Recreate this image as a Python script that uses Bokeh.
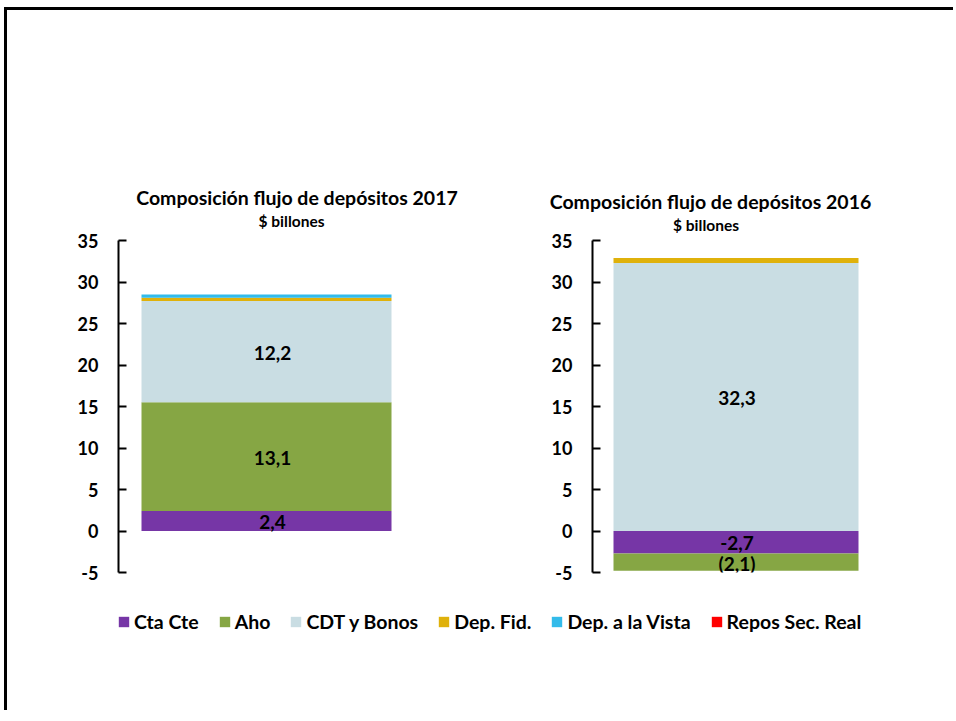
from bokeh.plotting import figure
from bokeh.models import (ColumnDataSource, Range1d, FixedTicker, Label, LabelSet,
                          Legend, LegendItem)
from bokeh.core.properties import value
from bokeh.layouts import column, row
from bokeh.embed import file_html
from bokeh.resources import INLINE

# ---------------- data ----------------
series = ["Cta Cte", "Aho", "CDT y Bonos", "Dep. Fid.", "Dep. a la Vista", "Repos Sec. Real"]
colors = ["#7636A6", "#86A644", "#C9DDE3", "#DFB10B", "#33BBEA", "#FF0000"]
values_2017 = [2.4, 13.1, 12.2, 0.4, 0.4, 0.0]
values_2016 = [-2.7, -2.1, 32.3, 0.6, 0.0, 0.0]
neg_format = ["minus", "paren", "minus", "minus", "minus", "minus"]
label_min = 1.0
y_ticks = [-5, 0, 5, 10, 15, 20, 25, 30, 35]
y_min, y_max = -5, 35
title_2017 = "Composición flujo de depósitos 2017"
title_2016 = "Composición flujo de depósitos 2016"
subtitle = "$ billones"

FONT = "Lato"
OX, OY = 7, 10          # page position of the content (inside the frame border)
AXIS_TOP = 240          # page y of the "35" tick
AXIS_H = 332            # pixels from 35 down to -5
BOTTOM_B = 19
HEADER_BOTTOM = 213
LEGEND_H = 119
W1, W2 = 513, 433


def fmt(v, style):
    s = f"{abs(v):.1f}".replace(".", ",")
    if v < 0:
        return f"({s})" if style == "paren" else "-" + s
    return s


def stack(vals):
    pos = neg = 0.0
    bottoms, tops = [], []
    for v in vals:
        if v >= 0:
            bottoms.append(pos); pos += v; tops.append(pos)
        else:
            bottoms.append(neg); neg += v; tops.append(neg)
    return bottoms, tops


def blank(width, height):
    f = figure(width=width, height=height, output_backend="svg", toolbar_location=None,
               title=None, x_axis_location=None, y_axis_location=None,
               x_range=Range1d(0, 1), y_range=Range1d(0, 1),
               min_border=0, min_border_left=0, min_border_right=0,
               min_border_top=0, min_border_bottom=0)
    f.outline_line_color = None
    f.xgrid.visible = False
    f.ygrid.visible = False
    return f


def make_chart(vals, page_left, width, left, bar_off, bar_px, label_dx, sub_cx, sub_cy):
    right = 60
    frame_w = width - left - right
    x0 = -0.5 - bar_off / bar_px
    x1 = x0 + frame_w / bar_px
    px_per_unit = AXIS_H / (y_max - y_min)
    extra = (AXIS_TOP - HEADER_BOTTOM) / px_per_unit   # room above 35 for the subtitle
    frame_h = AXIS_TOP - HEADER_BOTTOM + AXIS_H
    height = frame_h + BOTTOM_B
    frame_bottom = HEADER_BOTTOM + frame_h
    p = figure(width=width, height=height, output_backend="svg", toolbar_location=None,
               title=None, x_axis_location=None,
               x_range=Range1d(x0, x1), y_range=Range1d(y_min, y_max + extra),
               min_border_left=left, min_border_right=right,
               min_border_top=0, min_border_bottom=BOTTOM_B)
    p.outline_line_color = None
    p.xgrid.visible = False
    p.ygrid.visible = False
    ax = p.yaxis[0]
    ax.bounds = (y_min, y_max)
    ax.ticker = FixedTicker(ticks=y_ticks)
    ax.major_label_overrides = {t: str(t) for t in y_ticks}
    ax.axis_line_width = 2
    ax.axis_line_color = "black"
    ax.major_tick_in = 8
    ax.major_tick_out = 0
    ax.major_tick_line_width = 2
    ax.major_tick_line_color = "black"
    ax.minor_tick_in = 0
    ax.minor_tick_out = 0
    ax.major_label_standoff = 20
    ax.major_label_text_font = FONT
    ax.major_label_text_font_style = "bold"
    ax.major_label_text_font_size = "18px"
    ax.major_label_text_color = "black"

    bottoms, tops = stack(vals)
    sources = []
    for i, name in enumerate(series):
        src = ColumnDataSource(dict(x=[0], bottom=[bottoms[i]], top=[tops[i]]))
        p.vbar(x="x", bottom="bottom", top="top", width=1.0, source=src,
               fill_color=colors[i], line_color=None)
        sources.append(src)

    lx, ly, lt = [], [], []
    for i, v in enumerate(vals):
        if abs(v) >= label_min:
            lx.append(0)
            ly.append((bottoms[i] + tops[i]) / 2)
            lt.append(fmt(v, neg_format[i]))
    lsrc = ColumnDataSource(dict(x=lx, y=ly, text=lt))
    p.add_layout(LabelSet(x="x", y="y", text="text", source=lsrc,
                          text_align="center", text_baseline="middle",
                          x_offset=label_dx, y_offset=-1,
                          text_font=value(FONT), text_font_style="bold",
                          text_font_size="19px", text_color="black"))

    # subtitle inside the (upward-extended) frame
    p.add_layout(Label(x=sub_cx - (page_left + left), y=frame_bottom - sub_cy,
                       x_units="screen", y_units="screen",
                       text=subtitle, text_align="center", text_baseline="middle",
                       text_font=FONT, text_font_style="bold",
                       text_font_size="15.5px", text_color="black"))
    return p, sources


# header holding both chart titles (one figure, its frame is the whole canvas)
header = blank(W1 + W2, HEADER_BOTTOM - OY)
for text, cx, cy in [(title_2017, 296.5, 197), (title_2016, 710, 201)]:
    header.add_layout(Label(x=cx - OX, y=HEADER_BOTTOM - cy,
                            x_units="screen", y_units="screen",
                            text=text, text_align="center", text_baseline="middle",
                            text_font=FONT, text_font_style="bold",
                            text_font_size="19.5px", text_color="black"))

p1, src17 = make_chart(values_2017, OX, W1, left=111, bar_off=23, bar_px=250,
                       label_dx=6, sub_cx=291, sub_cy=220)
p2, src16 = make_chart(values_2016, OX + W1, W2, left=72, bar_off=21, bar_px=245,
                       label_dx=1, sub_cx=705.5, sub_cy=224.5)

# legend figure
p3 = blank(W1 + W2, LEGEND_H)
items = []
for i, name in enumerate(series):
    r = p3.vbar(x="x", bottom="bottom", top="top", width=1.0, source=src17[i],
                fill_color=colors[i], line_color=None, visible=False)
    items.append(LegendItem(label=name, renderers=[r]))
legend = Legend(items=items, orientation="horizontal", location=(110, 77),
                glyph_width=13, glyph_height=13, label_standoff=4, spacing=19,
                padding=0, margin=0, border_line_color=None,
                background_fill_alpha=0,
                label_text_font=FONT, label_text_font_style="bold",
                label_text_font_size="19.5px", label_text_color="black")
p3.add_layout(legend)

layout = column(header, row(p1, p2), p3,
                styles={"border-top": "3px solid black", "border-left": "3px solid black",
                        "margin-left": "4px", "margin-top": "7px"})

open("out.html", "w").write(file_html(layout, INLINE))
